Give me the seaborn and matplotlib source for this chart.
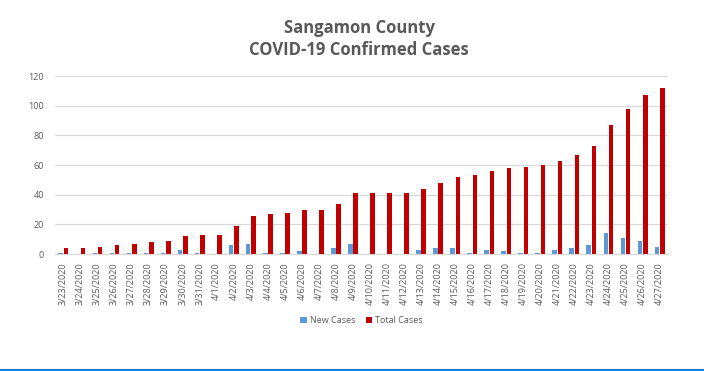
import matplotlib
matplotlib.use("Agg")
import matplotlib.pyplot as plt
import seaborn as sns
import pandas as pd
import numpy as np

# dates shown on the x axis
dates = ["3/23/2020", "3/24/2020", "3/25/2020", "3/26/2020", "3/27/2020", "3/28/2020",
         "3/29/2020", "3/30/2020", "3/31/2020", "4/1/2020", "4/2/2020", "4/3/2020",
         "4/4/2020", "4/5/2020", "4/6/2020", "4/7/2020", "4/8/2020", "4/9/2020",
         "4/10/2020", "4/11/2020", "4/12/2020", "4/13/2020", "4/14/2020", "4/15/2020",
         "4/16/2020", "4/17/2020", "4/18/2020", "4/19/2020", "4/20/2020", "4/21/2020",
         "4/22/2020", "4/23/2020", "4/24/2020", "4/25/2020", "4/26/2020", "4/27/2020"]

new_cases = [1, 0, 1, 1, 1, 1, 1, 3, 1, 0, 6, 7, 1, 1, 2, 0, 4, 7,
             0, 0, 0, 3, 4, 4, 1, 3, 2, 1, 1, 3, 4, 6, 14, 11, 9, 5]

total_cases = [4, 4, 5, 6, 7, 8, 9, 12, 13, 13, 19, 26, 27, 28, 30, 30, 34, 41,
               41, 41, 41, 44, 48, 52, 53, 56, 58, 59, 60, 63, 67, 73, 87, 98, 107, 112]

series_names = ["New Cases", "Total Cases"]
colors = ["#5B9BD5", "#C00000"]

df = pd.DataFrame({
    "date": dates * 2,
    "cases": new_cases + total_cases,
    "series": [series_names[0]] * len(dates) + [series_names[1]] * len(dates),
})

sns.set_style("white")
plt.rcParams["font.family"] = ["Open Sans", "DejaVu Sans"]

fig = plt.figure(figsize=(7.04, 3.71), dpi=100)
ax = fig.add_axes([0.078, 0.315, 0.871, 0.48])

sns.barplot(data=df, x="date", y="cases", hue="series", palette=colors,
            width=0.62, gap=0.12, dodge=True, ax=ax, legend=True, saturation=1,
            linewidth=0)

ax.set_ylim(0, 120)
ax.set_yticks(range(0, 121, 20))
ax.set_xlim(-0.5, len(dates) - 0.5)
ax.yaxis.grid(True, color="#D9D9D9", linewidth=0.9)
ax.set_axisbelow(True)
for s in ["top", "right", "left"]:
    ax.spines[s].set_visible(False)
ax.spines["bottom"].set_color("#D9D9D9")
ax.set_xlabel("")
ax.set_ylabel("")

ax.tick_params(axis="y", labelsize=6.5, labelcolor="#595959", length=0, pad=8)
ax.tick_params(axis="x", labelsize=6.5, labelcolor="#595959", length=0, pad=6)
plt.setp(ax.get_xticklabels(), rotation=90)
# category boundary tick marks, Excel style
ax.set_xticks(np.arange(-0.5, len(dates), 1), minor=True)
ax.tick_params(axis="x", which="minor", length=4, color="#D9D9D9", width=0.8)

ax.legend(loc="center", bbox_to_anchor=(0.5, -0.375), ncol=2, frameon=False,
          fontsize=6.5, handlelength=0.7, handleheight=0.7, columnspacing=1.2,
          handletextpad=0.3, labelcolor="#595959")

fig.text(0.51, 0.925, "Sangamon County", ha="center", va="center",
         fontsize=12, fontweight="bold", color="#595959")
fig.text(0.51, 0.865, "COVID-19 Confirmed Cases", ha="center", va="center",
         fontsize=12, fontweight="bold", color="#595959")

# blue rule along the bottom edge
fig.add_artist(plt.Line2D([0, 1], [0.004, 0.004], color="#1A7FD0", linewidth=1.5,
                          transform=fig.transFigure))

fig.savefig("out.png", dpi=100)
